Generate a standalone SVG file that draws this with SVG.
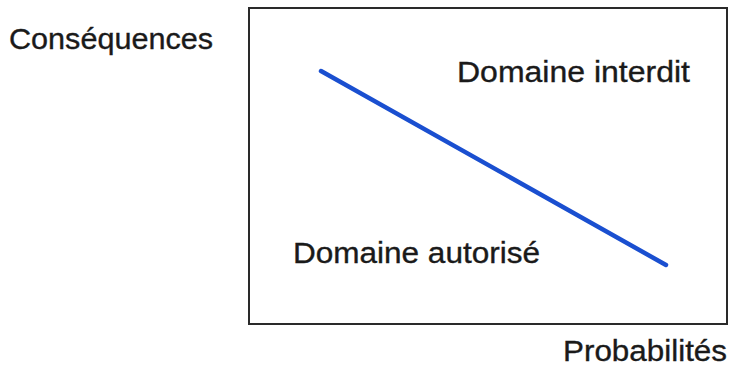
<svg xmlns="http://www.w3.org/2000/svg" width="729" height="366" viewBox="0 0 729 366">
<style>
.t{font-family:"Liberation Sans",Arial,sans-serif;font-size:29px;fill:#1a1a1a;stroke:#1a1a1a;stroke-width:0.35}
.frame{fill:#fff;stroke:#2a2a2a;stroke-width:2}
.curve{stroke:#1a4fd0;stroke-width:4.5;stroke-linecap:round;fill:none}
</style>
<rect width="729" height="366" fill="#fff"/>
<g id="frame"><rect class="frame" x="249" y="8" width="478" height="316"/></g>
<g id="connectors"><line class="curve" x1="321" y1="71" x2="666" y2="265"/></g>
<g id="label-consequences"><text class="t" x="9" y="49" textLength="204" lengthAdjust="spacingAndGlyphs">Conséquences</text></g>
<g id="label-interdit"><text class="t" x="457" y="82" textLength="233" lengthAdjust="spacingAndGlyphs">Domaine interdit</text></g>
<g id="label-autorise"><text class="t" x="293" y="263" textLength="247" lengthAdjust="spacingAndGlyphs">Domaine autorisé</text></g>
<g id="label-probabilites"><text class="t" x="563" y="361" textLength="164" lengthAdjust="spacingAndGlyphs">Probabilités</text></g>
</svg>
